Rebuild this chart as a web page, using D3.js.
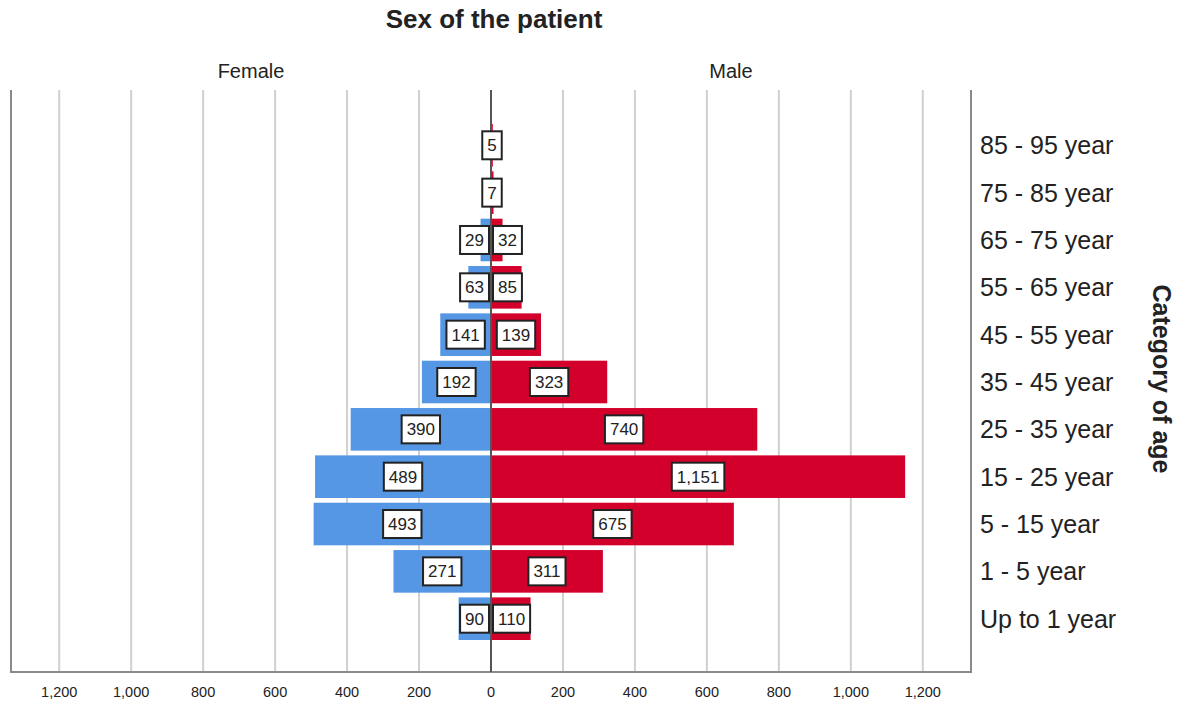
<!DOCTYPE html>
<meta charset="utf-8">
<html>
  <head>
    <style>
      body { margin: 0; background: #fff; }
      text { font-family: "Liberation Sans", Arial, sans-serif; fill: #222; }
      .grid line { stroke: #d0d0d0; stroke-width: 2px; }
      .tick-label { font-size: 14.5px; }
      .cat-label { font-size: 25px; }
      .box rect { fill: #fff; stroke: #222; stroke-width: 2px; }
      .box text { font-size: 17px; }
    </style>
    <script src="https://d3js.org/d3.v7.min.js"></script>
  </head>
  <body>
    <script>
      var width = 1181, height = 705;

      // data, bottom row first
      var ageGroups = ["Up to 1 year", "1 - 5 year", "5 - 15 year", "15 - 25 year", "25 - 35 year",
                       "35 - 45 year", "45 - 55 year", "55 - 65 year", "65 - 75 year", "75 - 85 year", "85 - 95 year"];
      var female = [90, 271, 493, 489, 390, 192, 141, 63, 29, 2, 0];
      var male   = [110, 311, 675, 1151, 740, 323, 139, 85, 32, 7, 5];
      var tickValues = [0, 200, 400, 600, 800, 1000, 1200];

      var femaleColor = "#5597e4",
          maleColor = "#d3002c";

      var plotLeft = 11, plotRight = 971, center = 491,
          plotTop = 90, plotBottom = 672;

      var svg = d3.select("body").append("svg")
          .attr("width", width)
          .attr("height", height);

      var xR = d3.scaleLinear().domain([0, 1334]).range([center, plotRight]);
      var xL = d3.scaleLinear().domain([0, 1334]).range([center, plotLeft]);
      var y = d3.scaleBand().domain(ageGroups.slice().reverse())
          .range([124, 640]).paddingInner(0.1);

      // gridlines
      var grid = svg.append("g").attr("class", "grid");
      grid.selectAll(".gl").data(tickValues.slice(1)).enter().append("line")
          .attr("x1", function(d) { return xL(d); }).attr("x2", function(d) { return xL(d); })
          .attr("y1", plotTop).attr("y2", plotBottom);
      grid.selectAll(".gr").data(tickValues.slice(1)).enter().append("line")
          .attr("x1", function(d) { return xR(d); }).attr("x2", function(d) { return xR(d); })
          .attr("y1", plotTop).attr("y2", plotBottom);

      // bars
      svg.selectAll(".fbar").data(female).enter().append("rect")
          .attr("x", function(d) { return xL(d); })
          .attr("y", function(d, i) { return y(ageGroups[i]); })
          .attr("width", function(d) { return center - xL(d); })
          .attr("height", y.bandwidth())
          .attr("fill", femaleColor);
      svg.selectAll(".mbar").data(male).enter().append("rect")
          .attr("x", center)
          .attr("y", function(d, i) { return y(ageGroups[i]); })
          .attr("width", function(d) { return xR(d) - center; })
          .attr("height", y.bandwidth())
          .attr("fill", maleColor);

      // frame
      svg.append("path")
          .attr("d", "M" + plotLeft + "," + plotTop + "V" + plotBottom + "H" + plotRight + "V" + plotTop)
          .attr("fill", "none").attr("stroke", "#8a8a8a").attr("stroke-width", 2);
      svg.append("line")
          .attr("x1", center).attr("x2", center).attr("y1", plotTop).attr("y2", plotBottom)
          .attr("stroke", "#555").attr("stroke-width", 2);

      // value boxes
      function addBox(val, i, side, other) {
          var cy = y(ageGroups[i]) + y.bandwidth() / 2;
          var g = svg.append("g").attr("class", "box");
          var r = g.append("rect");
          var t = g.append("text").text(d3.format(",")(val))
              .attr("text-anchor", "middle").attr("dy", "0.36em");
          var w = t.node().getComputedTextLength() + 10, h = 28;
          var cx;
          if (other < 5) {
              cx = center + 1;
          } else if (side < 0) {
              cx = Math.min((xL(val) + center) / 2, center - 2 - w / 2);
          } else {
              cx = Math.max((xR(val) + center) / 2, center + 2 + w / 2);
          }
          r.attr("x", cx - w / 2).attr("y", cy - h / 2).attr("width", w).attr("height", h);
          t.attr("x", cx).attr("y", cy);
      }
      female.forEach(function(d, i) { if (d >= 5) addBox(d, i, -1, male[i]); });
      male.forEach(function(d, i) { if (d >= 5) addBox(d, i, 1, female[i]); });

      // tick labels
      svg.selectAll(".tl").data(tickValues.slice(1)).enter().append("text")
          .attr("class", "tick-label").attr("text-anchor", "middle")
          .attr("x", function(d) { return xL(d); }).attr("y", 697)
          .text(d3.format(","));
      svg.selectAll(".tr").data(tickValues).enter().append("text")
          .attr("class", "tick-label").attr("text-anchor", "middle")
          .attr("x", function(d) { return xR(d); }).attr("y", 697)
          .text(d3.format(","));

      // category labels
      svg.selectAll(".cat").data(ageGroups).enter().append("text")
          .attr("class", "cat-label")
          .attr("x", 980)
          .attr("y", function(d) { return y(d) + y.bandwidth() / 2; })
          .attr("dy", "0.36em")
          .text(function(d) { return d; });

      svg.append("text")
          .attr("transform", "translate(1153,379) rotate(90)")
          .attr("text-anchor", "middle")
          .style("font-size", "25px").style("font-weight", "bold")
          .text("Category of age");

      svg.append("text")
          .attr("x", 494).attr("y", 28).attr("text-anchor", "middle")
          .style("font-size", "26px").style("font-weight", "bold")
          .text("Sex of the patient");

      svg.append("text").attr("x", (plotLeft + center) / 2).attr("y", 78)
          .attr("text-anchor", "middle").style("font-size", "20px").text("Female");
      svg.append("text").attr("x", (center + plotRight) / 2).attr("y", 78)
          .attr("text-anchor", "middle").style("font-size", "20px").text("Male");
    </script>
  </body>
</html>
